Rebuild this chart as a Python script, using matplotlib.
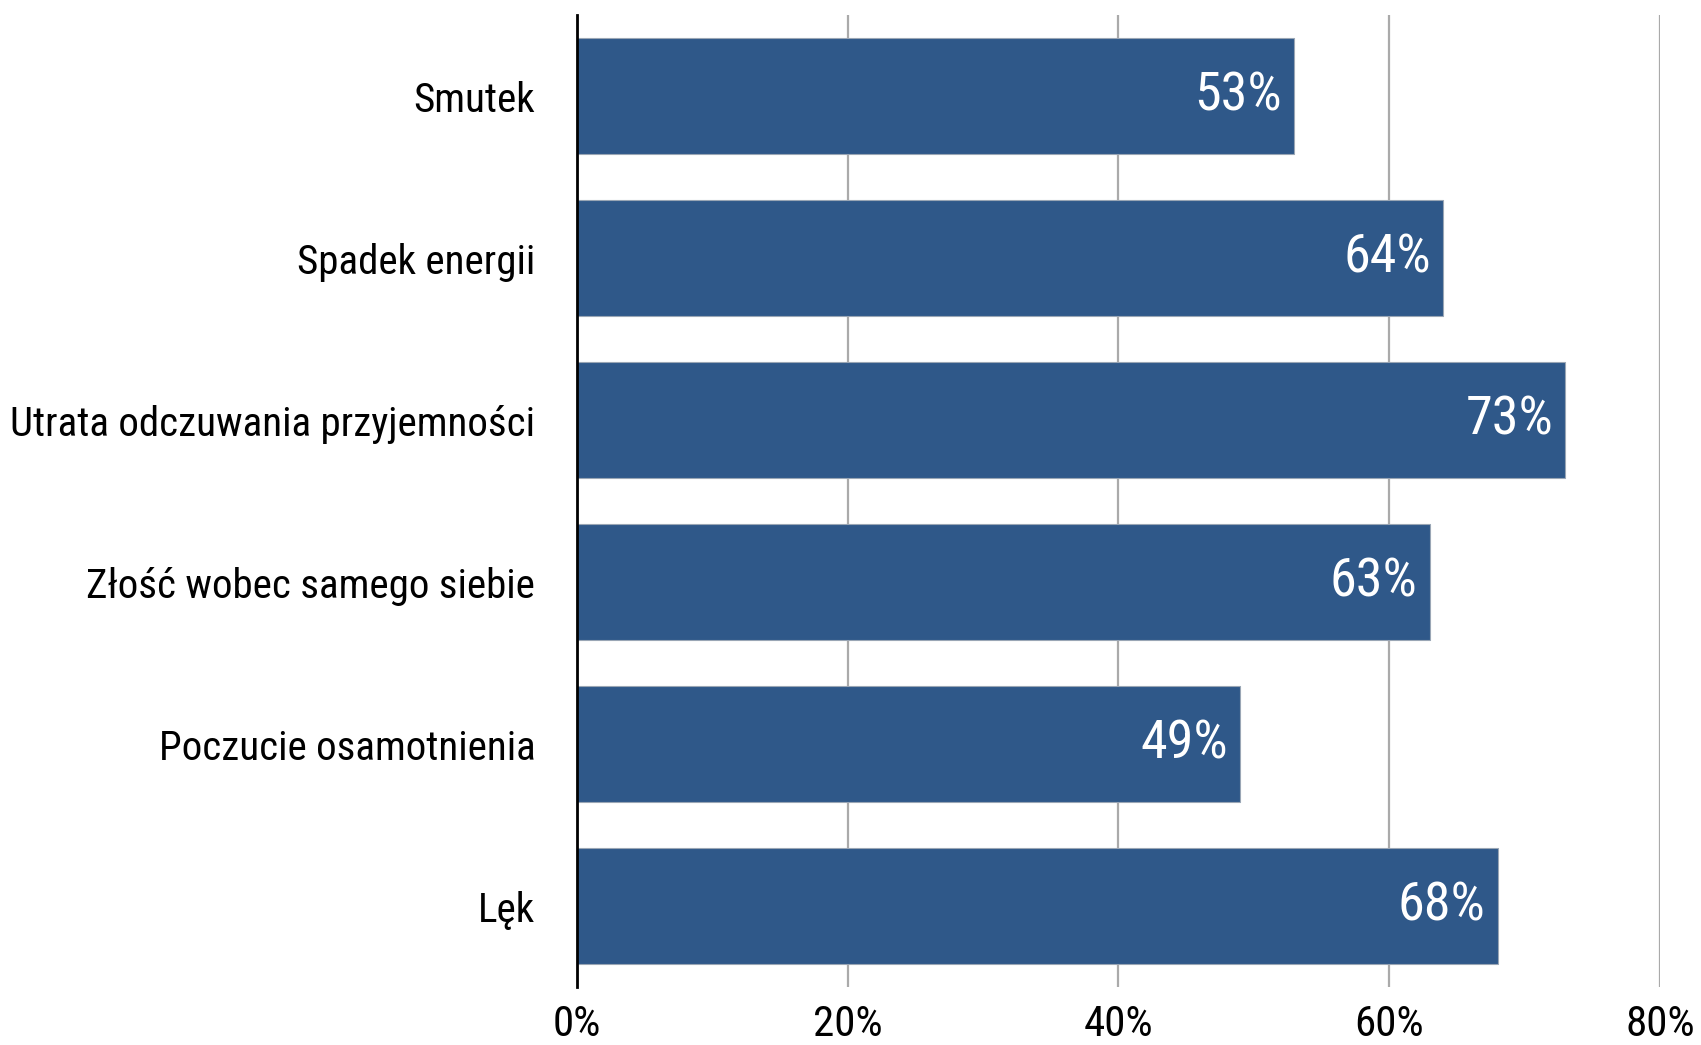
import matplotlib
matplotlib.use("Agg")
import matplotlib.pyplot as plt
from matplotlib.ticker import FuncFormatter

# data (top to bottom)
categories = ['Smutek', 'Spadek energii', 'Utrata odczuwania przyjemności',
              'Złość wobec samego siebie', 'Poczucie osamotnienia', 'Lęk']
values = [0.53, 0.64, 0.73, 0.63, 0.49, 0.68]
x_ticks = [0.0, 0.2, 0.4, 0.6, 0.8]

plt.rcParams['font.family'] = ['Roboto Condensed', 'Liberation Sans', 'DejaVu Sans']

bar_color = '#2f5889'

fig = plt.figure(figsize=(17.01, 10.45), dpi=100)
ax = fig.add_axes([0.3392, 0.0555, 0.9759 - 0.3392, 0.9856 - 0.0555])

ypos = list(range(len(categories)))
ax.barh(ypos, values, height=0.715, color=bar_color,
        edgecolor='#9aa6b5', linewidth=0.8, zorder=3)

# value labels inside the bar end
for y, v in zip(ypos, values):
    ax.text(v - 0.009, y, f'{round(v*100)}%', color='white', fontsize=39,
            ha='right', va='center', zorder=4)

ax.set_ylim(len(categories) - 0.5, -0.5)
ax.set_xlim(0, 0.8)
ax.set_yticks(ypos)
ax.set_yticklabels(categories, fontsize=29.5)
ax.set_xticks(x_ticks)
ax.xaxis.set_major_formatter(FuncFormatter(lambda x, p: f'{round(x*100)}%'))
for lab in ax.get_xticklabels():
    lab.set_fontsize(31)

ax.tick_params(axis='y', length=0, pad=30)
ax.tick_params(axis='x', length=0, pad=12)
ax.grid(axis='x', color='#aaaaaa', linewidth=1.6, zorder=0)
ax.set_axisbelow(True)
for s in ['top', 'right', 'bottom']:
    ax.spines[s].set_visible(False)
ax.spines['left'].set_linewidth(2)
ax.spines['left'].set_color('black')
ax.spines['left'].set_zorder(5)

fig.savefig('out.png', dpi=100)
